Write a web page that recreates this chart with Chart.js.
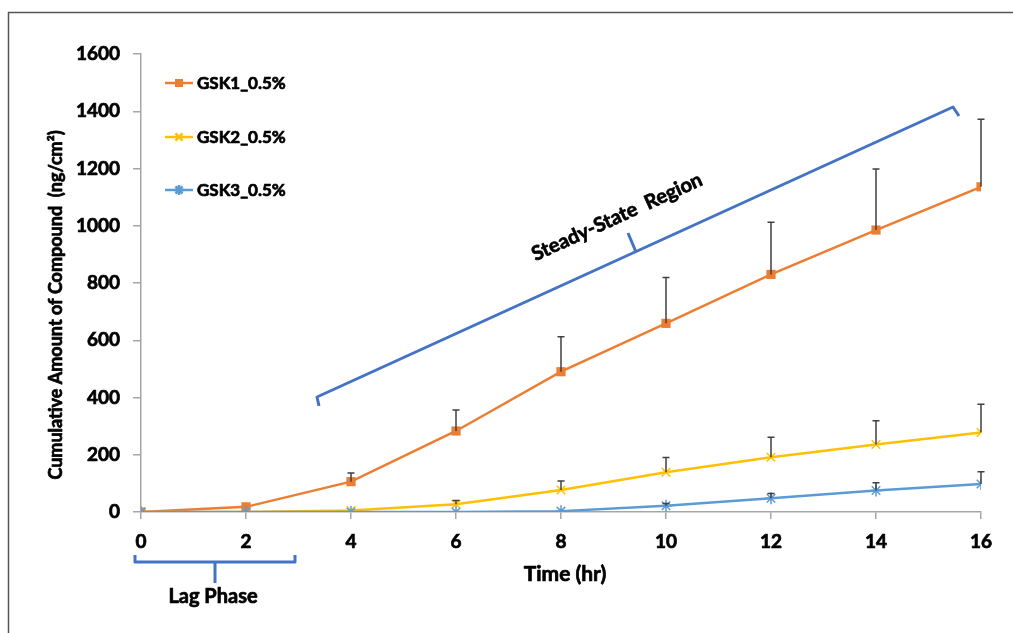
<!DOCTYPE html>
<html>
<head>
<meta charset="utf-8">
<script src="https://cdn.jsdelivr.net/npm/chart.js@4.4.1/dist/chart.umd.min.js"></script>
<style>
html,body{margin:0;padding:0;background:#fff;}
#wrap{position:relative;width:1013px;height:633px;}
canvas{display:block;}
</style>
</head>
<body>
<div id="wrap"><canvas id="c" width="1013" height="633"></canvas></div>
<script>
// ---- data ----
const timeHr = [0, 2, 4, 6, 8, 10, 12, 14, 16];
const gsk1Mean = [0, 18, 106, 283, 490, 659, 830, 985, 1136];
const gsk1ErrTop = [0, 18, 136, 356, 612, 819, 1012, 1198, 1372];
const gsk2Mean = [0, 0, 5, 27, 77, 139, 191, 236, 278];
const gsk2ErrTop = [0, 0, 5, 40, 108, 190, 261, 319, 376];
const gsk3Mean = [0, 0, 0, 0, 3, 22, 48, 75, 98];
const gsk3ErrTop = [0, 0, 0, 0, 3, 30, 65, 102, 141];
const seriesNames = ['GSK1_0.5%', 'GSK2_0.5%', 'GSK3_0.5%'];
const yTicks = [0, 200, 400, 600, 800, 1000, 1200, 1400, 1600];
const xTicks = [0, 2, 4, 6, 8, 10, 12, 14, 16];

const FONT = 'Lato, "Open Sans", sans-serif';
const W = 'bold';
const SW = 0.7; // extra stroke to thicken text
const C1 = '#ED7D31', C2 = '#FFC000', C3 = '#5B9BD5', BRACE = '#4472C4';

function pts(ys){ return timeHr.map((x,i)=>({x:x,y:ys[i]})); }

const errTops = [gsk1ErrTop, gsk2ErrTop, gsk3ErrTop];

function boldText(ctx, s, x, y){
  ctx.lineWidth = SW;
  ctx.strokeStyle = '#000';
  ctx.lineJoin = 'round';
  ctx.strokeText(s, x, y);
  ctx.fillText(s, x, y);
}

const errorBars = {
  id:'errorBars',
  afterDatasetsDraw(chart){
    const ctx = chart.ctx, xs = chart.scales.x, ys = chart.scales.y;
    ctx.save();
    ctx.strokeStyle = '#404040';
    ctx.lineWidth = 1.5;
    chart.data.datasets.forEach((ds, di)=>{
      const tops = errTops[di];
      ds.data.forEach((p, i)=>{
        if (tops[i] <= p.y) return;
        const px = xs.getPixelForValue(p.x);
        const y0 = ys.getPixelForValue(p.y);
        const y1 = ys.getPixelForValue(tops[i]);
        ctx.beginPath();
        ctx.moveTo(px, y0); ctx.lineTo(px, y1);
        ctx.moveTo(px-3.5, y1); ctx.lineTo(px+3.5, y1);
        ctx.stroke();
      });
    });
    ctx.restore();
  }
};

const decor = {
  id:'decor',
  afterDraw(chart){
    const ctx = chart.ctx;
    ctx.save();
    // frame
    ctx.strokeStyle = '#555';
    ctx.lineWidth = 1.5;
    ctx.beginPath();
    ctx.moveTo(8.5, 633); ctx.lineTo(8.5, 12.5); ctx.lineTo(1013, 12.5);
    ctx.stroke();

    // legend
    const rows = [83, 137, 190];
    const cols = [C1, C2, C3];
    const styles = ['rect', 'crossRot', 'star'];
    ctx.textBaseline = 'middle';
    ctx.textAlign = 'left';
    rows.forEach((y, i)=>{
      ctx.strokeStyle = cols[i];
      ctx.lineWidth = 2.5;
      ctx.beginPath(); ctx.moveTo(165, y); ctx.lineTo(193, y); ctx.stroke();
      if (i===0){ ctx.fillStyle = C1; ctx.fillRect(175, y-4, 8, 8); }
      else { ctx.fillStyle = cols[i]; Chart.helpers.drawPoint(ctx, {pointStyle: styles[i], radius: 5, borderWidth: 1.5, rotation:0}, 179, y); }
      ctx.fillStyle = '#000';
      ctx.font = W + ' 17px ' + FONT;
      boldText(ctx, seriesNames[i], 197, y+1);
    });

    // axis titles
    ctx.fillStyle = '#000';
    ctx.font = W + ' 21px ' + FONT;
    ctx.textAlign = 'center';
    boldText(ctx, 'Time (hr)', 565, 574);
    ctx.save();
    ctx.translate(56, 305);
    ctx.rotate(-Math.PI/2);
    ctx.font = W + ' 18px ' + FONT;
    boldText(ctx, 'Cumulative Amount of Compound  (ng/cm\u00B2)', 0, 0);
    ctx.restore();

    // steady-state brace
    ctx.strokeStyle = BRACE;
    ctx.lineWidth = 3;
    ctx.lineJoin = 'round';
    ctx.beginPath();
    ctx.moveTo(319, 406); ctx.lineTo(317, 397); ctx.lineTo(953, 107); ctx.lineTo(959, 116);
    ctx.stroke();
    ctx.beginPath();
    ctx.moveTo(636, 252); ctx.lineTo(628, 233);
    ctx.stroke();
    ctx.save();
    ctx.translate(617, 217);
    ctx.rotate(Math.atan2(107-397, 953-317));
    ctx.fillStyle = '#000';
    ctx.font = W + ' 20px ' + FONT;
    ctx.textAlign = 'center';
    boldText(ctx, 'Steady-State  Region', 0, 0);
    ctx.restore();

    // lag phase brace
    ctx.strokeStyle = BRACE;
    ctx.lineWidth = 3;
    ctx.beginPath();
    ctx.moveTo(135, 555); ctx.lineTo(135, 562); ctx.lineTo(295, 562); ctx.lineTo(295, 555);
    ctx.moveTo(215, 562); ctx.lineTo(215, 583);
    ctx.stroke();
    ctx.fillStyle = '#000';
    ctx.font = W + ' 20px ' + FONT;
    ctx.textAlign = 'center';
    boldText(ctx, 'Lag Phase', 213, 597);
    ctx.restore();
  }
};

new Chart(document.getElementById('c'), {
  type:'line',
  data:{
    datasets:[
      {label:seriesNames[0], data:pts(gsk1Mean), borderColor:C1, backgroundColor:C1, borderWidth:2.5,
       pointStyle:'rect', pointRadius:6.5, pointBorderWidth:0, order:3},
      {label:seriesNames[1], data:pts(gsk2Mean), borderColor:C2, backgroundColor:C2, borderWidth:2.5,
       pointStyle:'crossRot', pointRadius:6, pointBorderWidth:1.5, order:2},
      {label:seriesNames[2], data:pts(gsk3Mean), borderColor:C3, backgroundColor:C3, borderWidth:2.5,
       pointStyle:'star', pointRadius:6, pointBorderWidth:1.5, order:1}
    ]
  },
  options:{
    responsive:false,
    animation:false,
    devicePixelRatio:1,
    layout:{padding:{left:0, right:32, top:54, bottom:0}},
    plugins:{legend:{display:false}, tooltip:{enabled:false}},
    elements:{line:{tension:0}},
    scales:{
      x:{
        type:'linear', min:0, max:16,
        afterFit(s){ s.height = 121; },
        afterBuildTicks(s){ s.ticks = xTicks.map(v=>({value:v})); },
        grid:{display:true, drawOnChartArea:false, drawTicks:true, tickLength:7, color:'#A6A6A6', lineWidth:1.5},
        border:{display:true, color:'#A6A6A6', width:1.5},
        ticks:{color:'#000', font:{family:FONT, size:19, weight:W}, padding:11, maxRotation:0,
               textStrokeColor:'#000', textStrokeWidth:SW, callback:(v)=>String(v)}
      },
      y:{
        min:0, max:1600,
        afterFit(s){ s.width = 141; },
        afterBuildTicks(s){ s.ticks = yTicks.map(v=>({value:v})); },
        grid:{display:true, drawOnChartArea:false, drawTicks:true, tickLength:8, color:'#A6A6A6', lineWidth:1.5},
        border:{display:true, color:'#A6A6A6', width:1.5},
        ticks:{color:'#000', font:{family:FONT, size:19, weight:W}, padding:13,
               textStrokeColor:'#000', textStrokeWidth:SW, callback:(v)=>String(v)}
      }
    }
  },
  plugins:[errorBars, decor]
});
</script>
</body>
</html>
